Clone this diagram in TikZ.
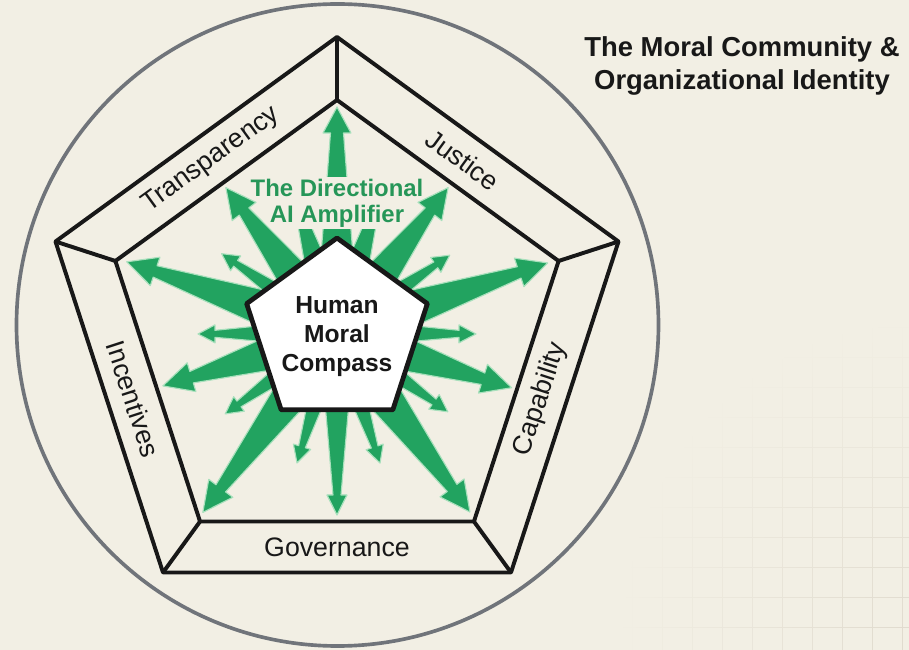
\documentclass[tikz,border=0pt]{standalone}
\usepackage{fontspec}
\setmainfont{Liberation Sans}
\usepackage{tikz}
\usetikzlibrary{calc, fadings}
\definecolor{paper}{RGB}{242,239,228}
\definecolor{raygreen}{RGB}{34,163,96}
\definecolor{rayedge}{RGB}{168,224,188}
\definecolor{textgreen}{RGB}{38,150,88}
\definecolor{rimgray}{RGB}{112,116,122}
\definecolor{ink}{RGB}{24,24,24}
\definecolor{gridline}{RGB}{221,215,202}
\tikzset{wall/.style = {draw=ink, line width=2.8pt, line join=round},
         ray/.style = {fill=raygreen, draw=rayedge, line width=0.8pt, line join=round},
         band/.style = {font=\fontsize{19}{22}\selectfont, text=ink, inner sep=0pt},
         amp/.style = {font=\bfseries\fontsize{17}{18.5}\selectfont, text=textgreen, align=center, fill=paper, inner sep=1pt},
         hubtext/.style = {font=\bfseries\fontsize{17.5}{20.6}\selectfont, text=ink, align=center},
         title/.style = {font=\bfseries\fontsize{19.5}{23}\selectfont, text=ink, align=center}}
\tikzfading[name=gridfade, inner color=transparent!15, outer color=transparent!100]

% angle, length, base half-width, neck half-width, head half-width, head length
\newcommand{\ray}[6]{\filldraw[ray, rotate=#1] (0,-#3) -- (#2-#6,-#4) -- (#2-#6,-#5) -- (#2,0) -- (#2-#6,#5) -- (#2-#6,#4) -- (0,#3) -- cycle;}
\newcommand{\bigray}[2]{\ray{#1}{#2}{26}{6}{15}{30}}
\newcommand{\smallray}[2]{\ray{#1}{#2}{15}{3.5}{9}{17}}

\begin{document}
\begin{tikzpicture}[x=0.025cm, y=0.025cm]
    \fill[paper] (-337,-317) rectangle (572,333);
    % faint squared paper in the corner
    \begin{scope}
        \clip (-337,-317) rectangle (572,333);
        \draw[gridline, line width=0.6pt, path fading=gridfade, shift={(25,6)}] (261,-635) grid[step=30] (833,1);
    \end{scope}
    \draw[rimgray, line width=2.6pt] (0.5,8) circle [radius=321];

    \coordinate (o0) at (90:296);
    \coordinate (o1) at (162:296);
    \coordinate (o2) at (234:296);
    \coordinate (o3) at (306:296);
    \coordinate (o4) at (18:296);
    \coordinate (i0) at (90:233);
    \coordinate (i1) at (162:233);
    \coordinate (i2) at (234:233);
    \coordinate (i3) at (306:233);
    \coordinate (i4) at (18:233);
    \coordinate (h0) at (90:95);
    \coordinate (h1) at (162:95);
    \coordinate (h2) at (234:95);
    \coordinate (h3) at (306:95);
    \coordinate (h4) at (18:95);

    \draw[wall] (o0) -- (o1) -- (o2) -- (o3) -- (o4) -- cycle;
    \draw[wall] (i0) -- (i1) -- (i2) -- (i3) -- (i4) -- cycle;
    \draw[wall] (o0) -- (i0);
    \draw[wall] (o1) -- (i1);
    \draw[wall] (o2) -- (i2);
    \draw[wall] (o3) -- (i3);
    \draw[wall] (o4) -- (i4);

    % rays running under the amplifier label
    \ray{90}{226}{22}{6.5}{14}{26}
    \ray{107}{145}{20}{4}{9}{15}
    \ray{73}{145}{20}{4}{9}{15}
    \node[amp] (amp) at (0,130) {The Directional\\AI Amplifier};

    \bigray{127.4}{183}
    \bigray{52.6}{183}
    \bigray{161.3}{222}
    \bigray{18.4}{222}
    \bigray{196.9}{182}
    \bigray{-17.4}{183}
    \bigray{233.2}{224}
    \bigray{-53.4}{223}
    \ray{270}{182}{18}{4}{10}{20}
    \smallray{145.5}{140}
    \smallray{34.6}{137}
    \smallray{180.4}{139}
    \smallray{-0.4}{139}
    \smallray{215.9}{138}
    \smallray{-35.4}{136}
    \smallray{252.9}{136}
    \smallray{-71.7}{137}

    \filldraw[fill=white, draw=ink, line width=3.4pt, line join=round] (h0) -- (h1) -- (h2) -- (h3) -- (h4) -- cycle;
    \node[hubtext] (hub) at (0,-4) {Human\\Moral\\Compass};

    \node[band, rotate=36] (transparency) at (126:214) {Transparency};
    \node[band, rotate=-36] (justice) at (54:214) {Justice};
    \node[band, rotate=72] (capability) at (-18:214) {Capability};
    \node[band] (governance) at (-90:214) {Governance};
    \node[band, rotate=-72] (incentives) at (198:214) {Incentives};

    \node[title] (title) at (405,267) {The Moral Community \&\\Organizational Identity};
\end{tikzpicture}
\end{document}
